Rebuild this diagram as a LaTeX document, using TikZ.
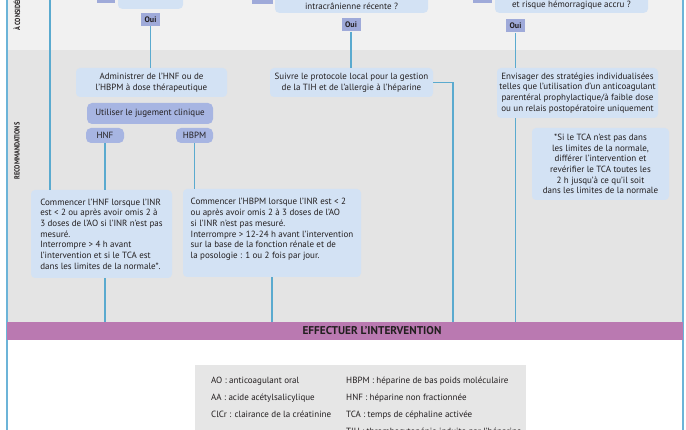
\documentclass[tikz,border=0pt]{standalone}
\usepackage{fontspec}
\setmainfont{PT Sans}
\newfontfamily\condbold{PT Sans}[FakeStretch=0.85]
\definecolor{bordc}{HTML}{6CB4D8}
\definecolor{connc}{HTML}{5AAACF}
\definecolor{lightbox}{HTML}{D3E2F4}
\definecolor{midbox}{HTML}{A7B5E2}
\definecolor{ouibox}{HTML}{9FAAD9}
\definecolor{topbg}{HTML}{F1F1F1}
\definecolor{midbg}{HTML}{E4E4E4}
\definecolor{purp}{HTML}{BA79B1}
\definecolor{legbg}{HTML}{E6E6E6}
\definecolor{txt}{HTML}{231F20}
\begin{document}
\begin{tikzpicture}[x=1pt,y=-1pt,
  every node/.style={text=txt},
  lbox/.style={fill=lightbox, rounded corners=4pt, inner sep=2pt, align=center, font=\fontsize{9}{10.7}\selectfont},
  mbox/.style={fill=midbox, rounded corners=5pt, inner sep=1pt, align=center, font=\fontsize{9}{10}\selectfont},
  ouistyle/.style={fill=ouibox, minimum width=19pt, minimum height=13pt, inner sep=0pt, font=\fontsize{8}{9}\selectfont\bfseries},
  sq/.style={fill=ouibox, inner sep=0pt},
  conn/.style={draw=connc, line width=1.2pt},
  bordl/.style={draw=bordc, line width=1.5pt},
  legtext/.style={anchor=base west, font=\fontsize{9}{10}\selectfont, inner sep=0pt},
  sidelab/.style={font=\condbold\bfseries\fontsize{7.4}{8}\selectfont, rotate=90, inner sep=0pt}
]
\useasboundingbox (0,0) rectangle (686,430);
\clip (0,0) rectangle (686,430);
% backgrounds
\fill[white] (0,0) rectangle (686,430);
\fill[topbg] (7,0) rectangle (683,50);
\fill[midbg] (7,50) rectangle (683,322);
\draw[bordl] (7,-2) -- (7,432);
\draw[bordl] (683,-2) -- (683,432);

% side labels
\node[sidelab, anchor=west] (lab1) at (17,31) {À CONSIDÉRER};
\node[sidelab] (lab2) at (17,151) {RECOMMANDATIONS};

% top question boxes (cut by the page edge)
\node[lbox, anchor=south, minimum width=65pt, minimum height=40pt] (q1) at (150.5,9) {};
\node[sq, anchor=south, minimum width=18pt, minimum height=15pt] (n1) at (106,3) {};
\node[lbox, anchor=south, minimum width=153pt, inner ysep=3pt] (q2) at (351.5,13) {\rule{0pt}{30pt}intracrânienne récente ?};
\node[sq, anchor=south, minimum width=21pt, minimum height=15pt] (n2) at (262.5,4) {};
\node[lbox, anchor=south, minimum width=153pt, inner ysep=3pt] (q3) at (571.5,13) {\rule{0pt}{30pt}et risque hémorragique accru ?};
\node[sq, anchor=south, minimum width=19pt, minimum height=15pt] (n3) at (482.5,3) {};

% Oui
\node[ouistyle] (oui1) at (150.5,19.5) {Oui};
\node[ouistyle] (oui2) at (351,25) {Oui};
\node[ouistyle] (oui3) at (515.5,26) {Oui};

% recommendation boxes
\node[lbox, minimum width=151pt, minimum height=29pt] (adm) at (151.5,82.5) {Administrer de l'HNF ou de\\l'HBPM à dose thérapeutique};
\node[mbox, minimum width=126pt, minimum height=21pt] (jug) at (150,113.5) {Utiliser le jugement clinique};
\node[mbox, minimum width=38pt, minimum height=15pt] (hnf) at (105,135.5) {HNF};
\node[mbox, minimum width=37pt, minimum height=15pt] (hbpm) at (194.5,135.5) {HBPM};
\node[lbox, align=left, minimum width=141pt, minimum height=88pt] (hnfc) at (101.5,234) {Commencer l'HNF lorsque l'INR\\est < 2 ou après avoir omis 2 à\\3 doses de l'AO si l'INR n'est pas\\mesuré.\\Interrompre > 4 h avant\\l'intervention et si le TCA est\\dans les limites de la normale*.};
\node[lbox, align=left, minimum width=178pt, minimum height=88pt] (hbpmc) at (272,233) {Commencer l'HBPM lorsque l'INR est < 2\\ou après avoir omis 2 à 3 doses de l'AO\\si l'INR n'est pas mesuré.\\Interrompre > 12-24 h avant l'intervention\\sur la base de la fonction rénale et de\\la posologie : 1 ou 2 fois par jour.\rule[-9pt]{0pt}{9pt}};
\node[lbox, minimum width=163pt, minimum height=29pt] (suivre) at (351.5,82.5) {Suivre le protocole local pour la gestion\\de la TIH et de l'allergie à l'héparine};
\node[lbox, minimum width=161pt, minimum height=50pt] (env) at (577.5,93) {Envisager des stratégies individualisées\\telles que l'utilisation d'un anticoagulant\\parentéral prophylactique/à faible dose\\ou un relais postopératoire uniquement};
\node[lbox, minimum width=137pt, minimum height=72pt] (tca) at (600.5,164) {*Si le TCA n'est pas dans\\les limites de la normale,\\différer l'intervention et\\revérifier le TCA toutes les\\2 h jusqu'à ce qu'il soit\\dans les limites de la normale};

% bar
\node[fill=purp, minimum width=676pt, minimum height=18pt, inner sep=0pt] (bar) at (345,331) {};
\node[font=\bfseries\fontsize{11.3}{12}\selectfont, inner sep=0pt] (bartxt) at (372,331) {EFFECTUER L'INTERVENTION};

% connectors
\coordinate (topL) at (50,-2);
\coordinate (sv) at (453,0);
\draw[conn] (topL) -- (topL |- hnfc.north);
\draw[conn] (oui1.south) -- (oui1.south |- adm.north);
\draw[conn] (oui2.south) -- (oui2.south |- suivre.north);
\draw[conn] (oui3.south) -- (oui3.south |- env.north);
\draw[conn] (oui3.south |- env.south) -- (oui3.south |- bar.north);
\draw[conn] (hnf.south) -- (hnf.south |- hnfc.north);
\draw[conn] (hbpm.south) -- (hbpm.south |- hbpmc.north);
\draw[conn] (hnf.south |- hnfc.south) -- (hnf.south |- bar.north);
\draw[conn] (hbpmc.south) -- (hbpmc.south |- bar.north);
\draw[conn] (suivre.east) -- (sv |- suivre.east) -- (sv |- bar.north);

% legend
\node[fill=legbg, minimum width=331pt, minimum height=80pt, anchor=north west, inner sep=0pt] (leg) at (195,365) {};
\node[legtext] (l1) at (211,384) {AO : anticoagulant oral};
\node[legtext] (l2) at (211,400.5) {AA : acide acétylsalicylique};
\node[legtext] (l3) at (211,418) {ClCr : clairance de la créatinine};
\node[legtext] (l4) at (346,384) {HBPM : héparine de bas poids moléculaire};
\node[legtext] (l5) at (346,400.5) {HNF : héparine non fractionnée};
\node[legtext] (l6) at (346,418) {TCA : temps de céphaline activée};
\node[legtext] (l7) at (346,435) {TIH : thrombocytopénie induite par l'héparine};
\end{tikzpicture}
\end{document}
